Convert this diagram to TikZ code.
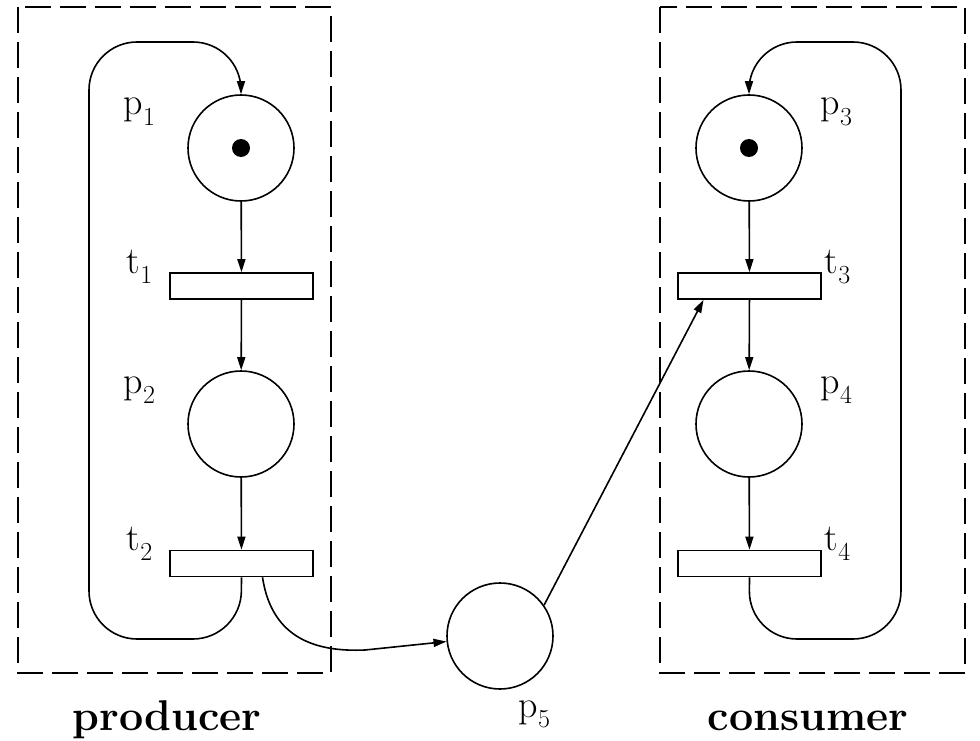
\documentclass[tikz,border=0pt]{standalone}
\usepackage{fontspec}
\usetikzlibrary{arrows.meta}
\newcommand\lblsub[2]{#1\raisebox{-0.28em}{\fontsize{26}{28}\selectfont #2}}
\begin{document}
\begin{tikzpicture}[x=1pt,y=-1pt,
  line width=1.6pt,
  place/.style={circle,draw,minimum size=106pt,inner sep=0pt},
  trans/.style={rectangle,draw,minimum width=143pt,minimum height=26pt,inner sep=0pt},
  tokendot/.style={circle,fill,minimum size=18pt,inner sep=0pt},
  arc/.style={-{Triangle[length=13pt,width=8pt]}},
  lbl/.style={anchor=base west,inner sep=0pt,font=\fontsize{38}{42}\selectfont},
  grp/.style={draw,line width=1.8pt,dash pattern=on 26pt off 9pt},
  title/.style={anchor=base,inner sep=0pt,font=\fontsize{43}{48}\selectfont\bfseries}]
\useasboundingbox (0,0) rectangle (980,741);
% groups
\draw[grp] (18,7) rectangle (331,673);
\draw[grp] (660,7) rectangle (965,673);
% places and transitions
\node[place] (p1) at (241,148) {};
\node[tokendot] (k1) at (p1) {};
\node[trans] (t1) at (241.5,286) {};
\node[place] (p2) at (241,424) {};
\node[trans] (t2) at (241.5,563.5) {};
\node[place] (p3) at (749,148) {};
\node[tokendot] (k3) at (p3) {};
\node[trans] (t3) at (749.5,286) {};
\node[place] (p4) at (749,424) {};
\node[trans] (t4) at (749.5,563.5) {};
\node[place] (p5) at (500,636) {};
% labels
\node[lbl] (lp1) at (123,115) {\lblsub{p}{1}};
\node[lbl] (lt1) at (126,273) {\lblsub{t}{1}};
\node[lbl] (lp2) at (123,393) {\lblsub{p}{2}};
\node[lbl] (lt2) at (126,550) {\lblsub{t}{2}};
\node[lbl] (lp3) at (820,115) {\lblsub{p}{3}};
\node[lbl] (lt3) at (824,273) {\lblsub{t}{3}};
\node[lbl] (lp4) at (820,393) {\lblsub{p}{4}};
\node[lbl] (lt4) at (824,550) {\lblsub{t}{4}};
\node[lbl] (lp5) at (518,717) {\lblsub{p}{5}};
\node[title] (prod) at (167,730) {producer};
\node[title] (cons) at (808,730) {consumer};
% arcs
\draw[arc] (p1) -- (t1);
\draw[arc] (t1) -- (p2);
\draw[arc] (p2) -- (t2);
\draw[arc] (p3) -- (t3);
\draw[arc] (t3) -- (p4);
\draw[arc] (p4) -- (t4);
\draw[arc,rounded corners=48pt] (t2.south) -- (241,639) -- (89,639) -- (89,42) -- (241,42) -- (p1.north);
\draw[arc,rounded corners=48pt] (t4.south) -- (749,639) -- (901,639) -- (901,42) -- (749,42) -- (p3.north);
\coordinate (t2out) at ([xshift=21pt]t2.south);
\coordinate (mid) at (365,650);
\draw[arc] (t2out) .. controls (272,640) and (318,652) .. (mid) -- (p5);
\coordinate (t3in) at ([xshift=-46pt]t3.south);
\draw[arc] (p5.35) -- (t3in);
\end{tikzpicture}
\end{document}
